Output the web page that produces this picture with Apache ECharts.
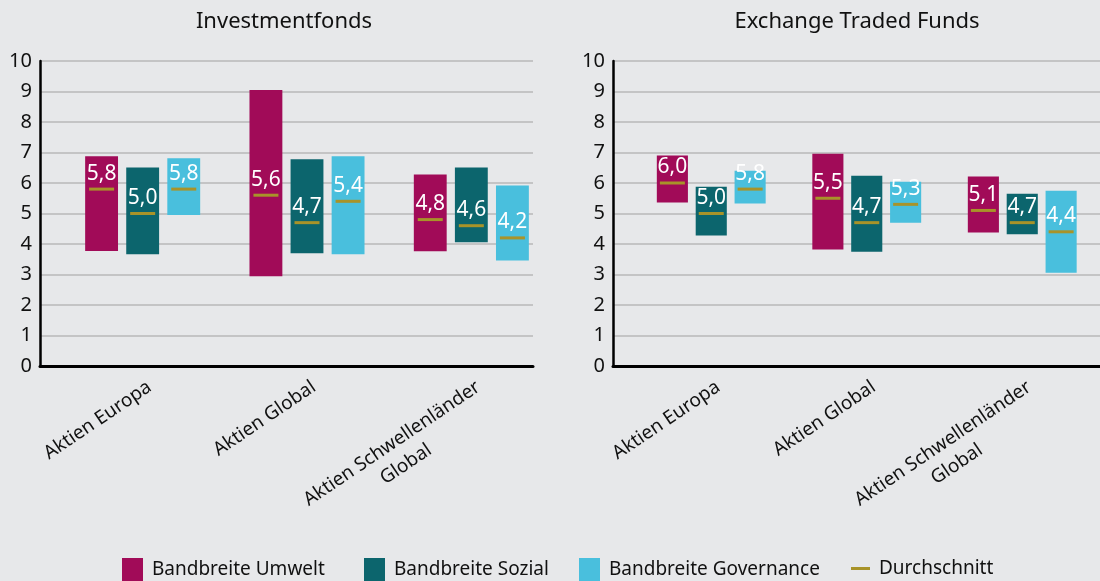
<!DOCTYPE html>
<html>
<head>
<meta charset="utf-8">
<script src="https://cdn.jsdelivr.net/npm/echarts@6/dist/echarts.min.js"></script>
<style>
  html, body { margin: 0; padding: 0; background: #e7e8ea; }
  #chart { width: 1100px; height: 581px; }
</style>
</head>
<body>
<div id="chart"></div>
<script>
const categories = ['Aktien Europa', 'Aktien Global', 'Aktien Schwellenländer\nGlobal']
const yTicks = [0, 1, 2, 3, 4, 5, 6, 7, 8, 9, 10]

// Investmentfonds
const fondsUmweltMin = [3.77, 2.94, 3.76]
const fondsUmweltMax = [6.88, 9.05, 6.28]
const fondsUmweltAvg = [5.8, 5.6, 4.8]
const fondsSozialMin = [3.66, 3.7, 4.06]
const fondsSozialMax = [6.51, 6.78, 6.51]
const fondsSozialAvg = [5.0, 4.7, 4.6]
const fondsGovMin = [4.95, 3.66, 3.46]
const fondsGovMax = [6.81, 6.88, 5.92]
const fondsGovAvg = [5.8, 5.4, 4.2]

// Exchange Traded Funds
const etfUmweltMin = [5.36, 3.82, 4.38]
const etfUmweltMax = [6.9, 6.96, 6.21]
const etfUmweltAvg = [6.0, 5.5, 5.1]
const etfSozialMin = [4.28, 3.75, 4.32]
const etfSozialMax = [5.88, 6.24, 5.65]
const etfSozialAvg = [5.0, 4.7, 4.7]
const etfGovMin = [5.33, 4.7, 3.06]
const etfGovMax = [6.4, 6.04, 5.75]
const etfGovAvg = [5.8, 5.3, 4.4]

const FONT = 'Noto Sans'
const colors = ['#a10b58', '#0c656d', '#49bfdd']
const avgColor = '#a89329'
const names = ['Bandbreite Umwelt', 'Bandbreite Sozial', 'Bandbreite Governance']

function fmt(v) {
  return v.toFixed(1).replace('.', ',')
}

// k = 0,1,2 -> position of the bar inside the category group
function rangeRenderer(k) {
  return function (params, api) {
    const band = api.size([1, 0])[0]
    const w = band * 0.2
    const cat = api.value(0)
    const x = api.coord([cat, 0])[0] + (k - 1) * band * 0.25
    const top = api.coord([cat, api.value(2)])[1]
    const bottom = api.coord([cat, api.value(1)])[1]
    const avgY = api.coord([cat, api.value(3)])[1]
    return {
      type: 'group',
      children: [
        {
          type: 'rect',
          shape: { x: x - w / 2, y: top, width: w, height: bottom - top },
          style: { fill: colors[k] },
        },
        {
          type: 'text',
          style: {
            text: fmt(api.value(3)),
            x: x,
            y: avgY - 5,
            align: 'center',
            verticalAlign: 'bottom',
            fill: '#ffffff',
            font: '21px "' + FONT + '"',
          },
        },
      ],
    }
  }
}

function avgRenderer(params, api) {
  const band = api.size([1, 0])[0]
  const cat = api.value(0)
  const k = api.value(2)
  const x = api.coord([cat, 0])[0] + (k - 1) * band * 0.25
  const y = api.coord([cat, api.value(1)])[1]
  return {
    type: 'rect',
    shape: { x: x - 12.5, y: y - 1.5, width: 25, height: 3 },
    style: { fill: avgColor },
  }
}

function rangeData(min, max, avg) {
  return categories.map((c, i) => [i, min[i], max[i], avg[i]])
}

function avgData(lists) {
  let out = []
  lists.forEach((list, k) => {
    list.forEach((v, i) => out.push([i, v, k]))
  })
  return out
}

function makeSeries(gridAxis, mins, maxs, avgs) {
  let list = []
  for (let k = 0; k < 3; k++) {
    list.push({
      name: names[k],
      type: 'custom',
      xAxisIndex: gridAxis,
      yAxisIndex: gridAxis,
      itemStyle: { color: colors[k] },
      renderItem: rangeRenderer(k),
      encode: { x: 0, y: [1, 2] },
      data: rangeData(mins[k], maxs[k], avgs[k]),
      clip: false,
    })
  }
  list.push({
    name: 'Durchschnitt',
    type: 'custom',
    xAxisIndex: gridAxis,
    yAxisIndex: gridAxis,
    itemStyle: { color: avgColor },
    renderItem: avgRenderer,
    encode: { x: 0, y: 1 },
    data: avgData(avgs),
    clip: false,
    z: 5,
  })
  return list
}

const gridTop = 61
const gridHeight = 305
const plotWidth = 493

// axes grid (grid lines, y axis) and shifted data grid (bars, category labels)
const grids = [
  { left: 40, top: gridTop, width: plotWidth, height: gridHeight },
  { left: 60.5, top: gridTop, width: plotWidth, height: gridHeight },
  { left: 613, top: gridTop, width: plotWidth, height: gridHeight },
  { left: 633.5, top: gridTop, width: plotWidth, height: gridHeight },
]

function frameX(gridIndex) {
  return {
    type: 'category',
    gridIndex: gridIndex,
    data: categories,
    axisLine: { show: true, lineStyle: { color: '#000', width: 3 } },
    axisTick: { show: false },
    axisLabel: { show: false },
  }
}

function labelX(gridIndex) {
  return {
    type: 'category',
    gridIndex: gridIndex,
    data: categories,
    axisLine: { show: false },
    axisTick: { show: false },
    axisLabel: {
      interval: 0,
      rotate: 34,
      margin: 9,
      verticalAlign: 'top',
      color: '#111',
      fontFamily: FONT,
      fontSize: 19,
      lineHeight: 25,
      formatter: function (v) {
        return v.split('\n').map((s) => '{a|' + s + '}').join('\n')
      },
      rich: { a: { align: 'center', fontFamily: FONT, fontSize: 19, lineHeight: 25, color: '#111' } },
    },
  }
}

function frameY(gridIndex) {
  return {
    type: 'value',
    gridIndex: gridIndex,
    min: yTicks[0],
    max: yTicks[yTicks.length - 1],
    interval: 1,
    axisLine: { show: true, lineStyle: { color: '#000', width: 2.5 } },
    axisTick: { show: false },
    axisLabel: { color: '#111', fontFamily: FONT, fontSize: 20, margin: 8 },
    splitLine: { show: true, lineStyle: { color: '#b9b9b9', width: 1.5 } },
  }
}

function hiddenY(gridIndex) {
  return {
    type: 'value',
    gridIndex: gridIndex,
    min: yTicks[0],
    max: yTicks[yTicks.length - 1],
    show: false,
  }
}

function legendAt(name, left, top, w, h, padTop) {
  return {
    left: left,
    top: top,
    padding: 0,
    data: [{ name: name, icon: 'rect' }],
    itemWidth: w,
    itemHeight: h,
    selectedMode: false,
    textStyle: { color: '#111', fontFamily: FONT, fontSize: 19, padding: [padTop, 0, 0, 4] },
  }
}

const chart = echarts.init(document.getElementById('chart'))
chart.setOption({
  backgroundColor: '#e7e8ea',
  animation: false,
  title: [
    {
      text: 'Investmentfonds',
      left: 279,
      top: 6,
      textAlign: 'center',
      textStyle: { color: '#111', fontFamily: FONT, fontSize: 22, fontWeight: 'normal' },
    },
    {
      text: 'Exchange Traded Funds',
      left: 852,
      top: 6,
      textAlign: 'center',
      textStyle: { color: '#111', fontFamily: FONT, fontSize: 22, fontWeight: 'normal' },
    },
  ],
  legend: [
    legendAt(names[0], 122, 558, 21, 24, 7),
    legendAt(names[1], 364, 558, 21, 24, 8),
    legendAt(names[2], 579, 558, 21, 24, 7),
    legendAt('Durchschnitt', 851, 559, 19, 3, 3),
  ],
  grid: grids,
  xAxis: [frameX(0), labelX(1), frameX(2), labelX(3)],
  yAxis: [frameY(0), hiddenY(1), frameY(2), hiddenY(3)],
  series: [].concat(
    makeSeries(
      1,
      [fondsUmweltMin, fondsSozialMin, fondsGovMin],
      [fondsUmweltMax, fondsSozialMax, fondsGovMax],
      [fondsUmweltAvg, fondsSozialAvg, fondsGovAvg]
    ),
    makeSeries(
      3,
      [etfUmweltMin, etfSozialMin, etfGovMin],
      [etfUmweltMax, etfSozialMax, etfGovMax],
      [etfUmweltAvg, etfSozialAvg, etfGovAvg]
    )
  ),
})
</script>
</body>
</html>
